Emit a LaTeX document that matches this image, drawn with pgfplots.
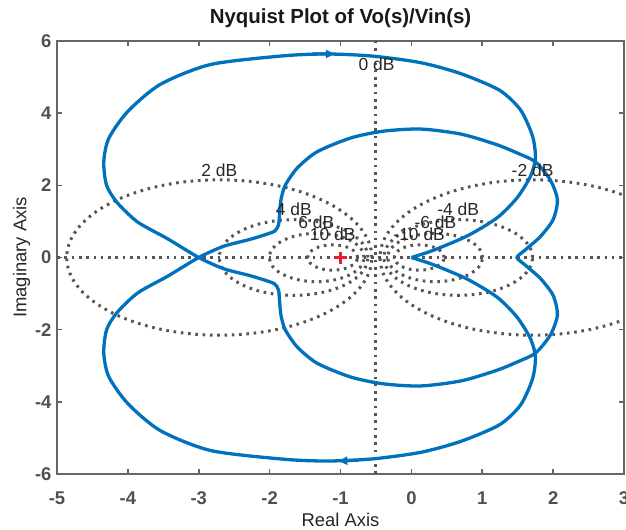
\documentclass[border=0pt]{standalone}
\usepackage{fontspec}
\setmainfont{Liberation Sans}
\usepackage{pgfplots}
\pgfplotsset{compat=1.18}
\usetikzlibrary{arrows.meta}
\definecolor{mblue}{RGB}{0,114,189}
\definecolor{axgray}{RGB}{102,102,102}
\definecolor{tkgray}{RGB}{80,80,80}
\definecolor{dotgray}{RGB}{85,85,85}
\definecolor{lblgray}{RGB}{40,40,40}
\definecolor{mred}{RGB}{235,30,40}
\tikzset{mcircle/.style={dotgray, line width=3bp, dash pattern=on 2.6bp off 4.7bp}}
\begin{document}
\begin{tikzpicture}
\begin{axis}[
  scale only axis, width=567bp, height=433bp,
  xmin=-5, xmax=3, ymin=-6, ymax=6,
  xtick={-5,-4,...,3}, ytick={-6,-4,...,6},
  axis line style={axgray, line width=2bp},
  tick style={axgray, line width=1.6bp},
  major tick length=5bp,
  tick align=inside,
  /pgf/number format/assume math mode=true,
  ticklabel style={font=\bfseries\fontsize{18.5}{18.5}\selectfont, text=tkgray},
  xticklabel style={yshift=-14bp},
  yticklabel style={xshift=-2bp},
  title={Nyquist Plot of Vo(s)/Vin(s)},
  title style={font=\bfseries\fontsize{20.5}{21}\selectfont, text=black!90, at={(axis description cs:0.5,1)}, anchor=base, yshift=12bp},
  xlabel={Real Axis}, ylabel={Imaginary Axis},
  xlabel style={font=\fontsize{18.5}{18.5}\selectfont, text=black!85, at={(axis description cs:0.5,-0.1212)}, anchor=base},
  ylabel style={font=\fontsize{18.5}{18.5}\selectfont, text=black!85, at={(axis description cs:-0.0538,0.5)}, anchor=base},
]
% grid: M-circles
\addplot[mcircle, forget plot] coordinates {(-5,0) (3,0)};
\addplot[mcircle, forget plot] coordinates {(-0.5,-6) (-0.5,6)};
\draw[mcircle] (axis cs:-2.7102,0) ellipse [x radius=2.1523, y radius=2.1523];
\draw[mcircle] (axis cs:1.7102,0) ellipse [x radius=2.1523, y radius=2.1523];
\draw[mcircle] (axis cs:-1.6614,0) ellipse [x radius=1.0483, y radius=1.0483];
\draw[mcircle] (axis cs:0.6614,0) ellipse [x radius=1.0483, y radius=1.0483];
\draw[mcircle] (axis cs:-1.3354,0) ellipse [x radius=0.6693, y radius=0.6693];
\draw[mcircle] (axis cs:0.3354,0) ellipse [x radius=0.6693, y radius=0.6693];
\draw[mcircle] (axis cs:-1.1111,0) ellipse [x radius=0.3514, y radius=0.3514];
\draw[mcircle] (axis cs:0.1111,0) ellipse [x radius=0.3514, y radius=0.3514];
% Nyquist curve
\addplot[mblue, line width=3.3bp, smooth, tension=0.45] coordinates {
(0,0)
(0.31,-0.2) (0.79,-0.6) (1.21,-1.1) (1.49,-1.65) (1.68,-2.25) (1.75,-2.75) (1.71,-3.36) (1.54,-4.09) (1.24,-4.64) (0.69,-5.1) (0.13,-5.4) (-0.54,-5.58) (-1.18,-5.64) (-1.8,-5.59) (-2.83,-5.35) (-3.54,-4.8) (-4.0,-4.05) (-4.27,-3.3) (-4.34,-2.65) (-4.3,-2.0) (-4.15,-1.52) (-3.86,-0.98) (-3.44,-0.52) (-3.0,0)
(-2.65,0.31) (-2.3,0.49) (-2.08,0.62) (-1.93,0.73) (-1.875,0.9) (-1.86,1.2) (-1.84,1.6) (-1.78,2.0) (-1.61,2.48) (-1.33,2.93) (-0.86,3.31) (-0.4,3.5) (0.13,3.56) (0.7,3.42) (1.2,3.13) (1.5,2.89) (1.75,2.65) (1.96,2.15) (2.06,1.6) (2.0,1.05) (1.82,0.58) (1.6,0.2) (1.49,0)
(1.6,-0.2) (1.82,-0.58) (2.0,-1.05) (2.06,-1.6) (1.96,-2.15) (1.75,-2.65) (1.5,-2.89) (1.2,-3.13) (0.7,-3.42) (0.13,-3.56) (-0.4,-3.5) (-0.86,-3.31) (-1.33,-2.93) (-1.61,-2.48) (-1.78,-2.0) (-1.84,-1.6) (-1.86,-1.2) (-1.875,-0.9) (-1.93,-0.73) (-2.08,-0.62) (-2.3,-0.49) (-2.65,-0.31) (-3,0)
(-3.44,0.52) (-3.86,0.98) (-4.15,1.52) (-4.3,2.0) (-4.34,2.65) (-4.27,3.3) (-4.0,4.05) (-3.54,4.8) (-2.83,5.35) (-1.8,5.59) (-1.18,5.64) (-0.54,5.58) (0.13,5.4) (0.69,5.1) (1.24,4.64) (1.54,4.09) (1.71,3.36) (1.75,2.75) (1.68,2.25) (1.49,1.65) (1.21,1.1) (0.79,0.6) (0.31,0.2) (0,0)
};
% direction arrows
\addplot[mblue, line width=3bp, -{Triangle[length=9bp,width=8bp]}] coordinates {(-1.4,5.64) (-1.08,5.643)};
\addplot[mblue, line width=3bp, -{Triangle[length=9bp,width=8bp]}] coordinates {(-0.75,-5.62) (-1.03,-5.64)};
% critical point
\addplot[only marks, mark=+, mark size=6bp, mred, line width=2.4bp] coordinates {(-1,0)};
% grid labels
\begin{scope}[every node/.style={font=\fontsize{17.5}{17.5}\selectfont, text=lblgray, inner sep=0pt}]
\node at (axis cs:-0.49,5.36) {0 dB};
\node at (axis cs:-2.71,2.43) {2 dB};
\node at (axis cs:1.71,2.43) {-2 dB};
\node at (axis cs:-1.66,1.33) {4 dB};
\node at (axis cs:0.66,1.33) {-4 dB};
\node at (axis cs:-1.34,0.97) {6 dB};
\node at (axis cs:0.34,0.97) {-6 dB};
\node at (axis cs:-1.11,0.64) {10 dB};
\node at (axis cs:0.11,0.64) {-10 dB};
\end{scope}
\end{axis}
\pgfresetboundingbox
\path ([xshift=-57bp,yshift=-55bp]current axis.south west) rectangle ([xshift=2bp,yshift=41bp]current axis.north east);
\end{tikzpicture}
\end{document}
